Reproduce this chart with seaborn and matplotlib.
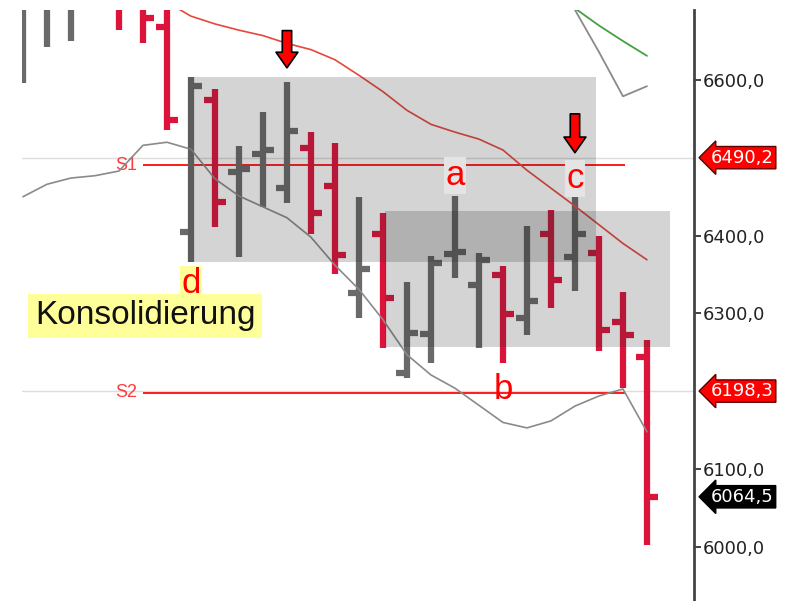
import matplotlib
matplotlib.use('Agg')
import matplotlib.pyplot as plt
import matplotlib.transforms as mtransforms
from matplotlib.patches import Rectangle
from matplotlib.ticker import FuncFormatter
import seaborn as sns
import numpy as np
import pandas as pd

# OHLC-Balken (Index 0..26)
opens = [6700, 6700, 6700, 6720, 6740, 6720, 6668, 6405, 6574, 6482, 6505, 6461, 6513, 6464,
         6326, 6402, 6223, 6273, 6376, 6337, 6349, 6294, 6402, 6372, 6378, 6289, 6244]
highs = [6720, 6730, 6730, 6760, 6760, 6740, 6720, 6604, 6588, 6515, 6559, 6597, 6533, 6519,
         6450, 6429, 6340, 6374, 6451, 6378, 6361, 6412, 6433, 6450, 6400, 6328, 6266]
lows = [6596, 6642, 6650, 6700, 6664, 6648, 6536, 6366, 6411, 6372, 6437, 6442, 6402, 6351,
        6294, 6256, 6217, 6236, 6345, 6256, 6236, 6272, 6307, 6329, 6252, 6204, 6002]
closes = [6715, 6720, 6720, 6740, 6700, 6680, 6549, 6592, 6443, 6486, 6510, 6534, 6429, 6375,
          6357, 6320, 6275, 6365, 6379, 6369, 6299, 6316, 6343, 6402, 6279, 6272, 6064.5]

# gleitende Linien
red_ma_idx = list(range(6, 27))
red_ma = [6700, 6682, 6672, 6664, 6657, 6647, 6639, 6626, 6606, 6585, 6561, 6543, 6533, 6524,
          6510, 6484, 6461, 6438, 6414, 6390, 6369]
gray_ma = [6450, 6466, 6474, 6477, 6483, 6516, 6520, 6511, 6473, 6451, 6437, 6423, 6398, 6362,
           6331, 6292, 6247, 6221, 6204, 6182, 6160, 6153, 6162, 6181, 6194, 6203, 6148]
top_idx = [23, 24, 25, 26]
top_green = [6692, 6670, 6650, 6631]
top_gray = [6690, 6636, 6579, 6592]

# Unterstuetzungen und Kursmarken
s_names = ['S1', 'S2']
s_levels = [6490.2, 6198.3]
last_price = 6064.5

# sichtbare Achsenbeschriftungen (6500 und 6200 liegen unter den Kursmarken)
y_ticks = [6000, 6100, 6300, 6400, 6600]

# Konsolidierungszonen: (x0, x1, unten, oben)
zone_x0 = [6.875, 15.08]
zone_x1 = [23.875, 26.96]
zone_lo = [6366, 6257]
zone_hi = [6604, 6432]

sns.set_style('white')
plt.rcParams['font.family'] = ['DejaVu Sans']
label_font = 'Liberation Sans'

fig = plt.figure(figsize=(7.88, 6.01), dpi=100)
ax = fig.add_axes([22 / 788, 0, (694 - 22) / 788, 591 / 601])

df = pd.DataFrame({'i': np.arange(len(opens)), 'o': opens, 'h': highs, 'l': lows, 'c': closes})
cols = np.where(df['c'] >= df['o'], '#6a6a6a', '#dc143c')

# Hilfslinien
for lv, off in zip(s_levels, [10, 2]):
    ax.axhline(lv + off, color='#dddddd', lw=1, zorder=1)
for name, lv in zip(s_names, s_levels):
    ax.hlines(lv, 5, 25.1, color='#ff1a1a', lw=1.4, zorder=2)
    ax.text(4.75, lv, name, color='#ff3b3b', fontsize=13, family=label_font,
            ha='right', va='center', zorder=2)

# Balken
ax.vlines(df['i'], df['l'], df['h'], colors=cols, lw=4.5, capstyle='butt', zorder=3)
ax.hlines(df['o'], df['i'] - 0.46, df['i'], colors=cols, lw=4.5, capstyle='butt', zorder=3)
ax.hlines(df['c'], df['i'], df['i'] + 0.46, colors=cols, lw=4.5, capstyle='butt', zorder=3)

sns.lineplot(x=red_ma_idx, y=red_ma, color='#e8463c', lw=1.2, ax=ax, zorder=3)
sns.lineplot(x=df['i'], y=gray_ma, color='#8a8a8a', lw=1.2, ax=ax, zorder=3)
sns.lineplot(x=top_idx, y=top_green, color='#44a044', lw=1.3, ax=ax, zorder=3)
sns.lineplot(x=top_idx, y=top_gray, color='#8a8a8a', lw=1.3, ax=ax, zorder=3)

for x0, x1, lo, hi in zip(zone_x0, zone_x1, zone_lo, zone_hi):
    ax.add_patch(Rectangle((x0, lo), x1 - x0, hi - lo, fc='#282828', alpha=0.2,
                           ec='none', zorder=4))

# Beschriftungen
ax.text(7, 6326, 'd', color='red', fontsize=25, family=label_font, ha='center', va='baseline',
        bbox=dict(boxstyle='square,pad=0.05', fc='#ffff99', ec='none'), zorder=6)
ax.text(18, 6465, 'a', color='red', fontsize=25, family=label_font, ha='center', va='baseline',
        bbox=dict(boxstyle='square,pad=0.05', fc='#e4e4e4', ec='none'), zorder=6)
ax.text(23, 6461, 'c', color='red', fontsize=25, family=label_font, ha='center', va='baseline',
        bbox=dict(boxstyle='square,pad=0.05', fc='#e4e4e4', ec='none'), zorder=6)
ax.text(20, 6190, 'b', color='red', fontsize=25, family=label_font, ha='center', va='baseline',
        zorder=6)
ax.text(0.5, 6297, 'Konsolidierung', color='#111111', fontsize=24, family=label_font,
        ha='left', va='center',
        bbox=dict(boxstyle='square,pad=0.2', fc='#ffff99', ec='none'), zorder=6)

arrow = dict(arrowstyle='simple,head_width=1.05,head_length=0.75,tail_width=0.45',
             fc='red', ec='black', lw=1.2, mutation_scale=15)
ax.annotate('', xy=(11, 6612), xytext=(11, 6667), arrowprops=arrow, zorder=7)
ax.annotate('', xy=(23, 6503), xytext=(23, 6560), arrowprops=arrow, zorder=7)

# Kursmarken rechts
trans = mtransforms.blended_transform_factory(ax.transAxes, ax.transData)
for lv, off in zip(s_levels, [10, 2]):
    ax.text(1.025, lv + off, f'{lv:.1f}'.replace('.', ','), transform=trans, color='white',
            fontsize=13, ha='left', va='center', clip_on=False, zorder=8,
            bbox=dict(boxstyle='larrow,pad=0.12', fc='red', ec='#600000', lw=1))
ax.text(1.025, last_price, f'{last_price:.1f}'.replace('.', ','), transform=trans, color='white',
        fontsize=13, ha='left', va='center', clip_on=False, zorder=8,
        bbox=dict(boxstyle='larrow,pad=0.12', fc='black', ec='black', lw=1))

ax.set_xlim(-0.04, 27.96)
ax.set_ylim(5930.6, 6689.9)
ax.yaxis.tick_right()
ax.set_yticks(y_ticks)
ax.yaxis.set_major_formatter(FuncFormatter(lambda v, p: f'{v:.1f}'.replace('.', ',')))
ax.tick_params(axis='y', right=True, length=5, width=1.3, color='#333333', labelsize=13,
               pad=1, labelcolor='#222222')
ax.set_xticks([])
ax.set_xlabel('')
ax.set_ylabel('')
for s in ['left', 'top', 'bottom']:
    ax.spines[s].set_visible(False)
ax.spines['right'].set_color('#444444')
ax.spines['right'].set_linewidth(2)

fig.savefig('out.png', dpi=100)
